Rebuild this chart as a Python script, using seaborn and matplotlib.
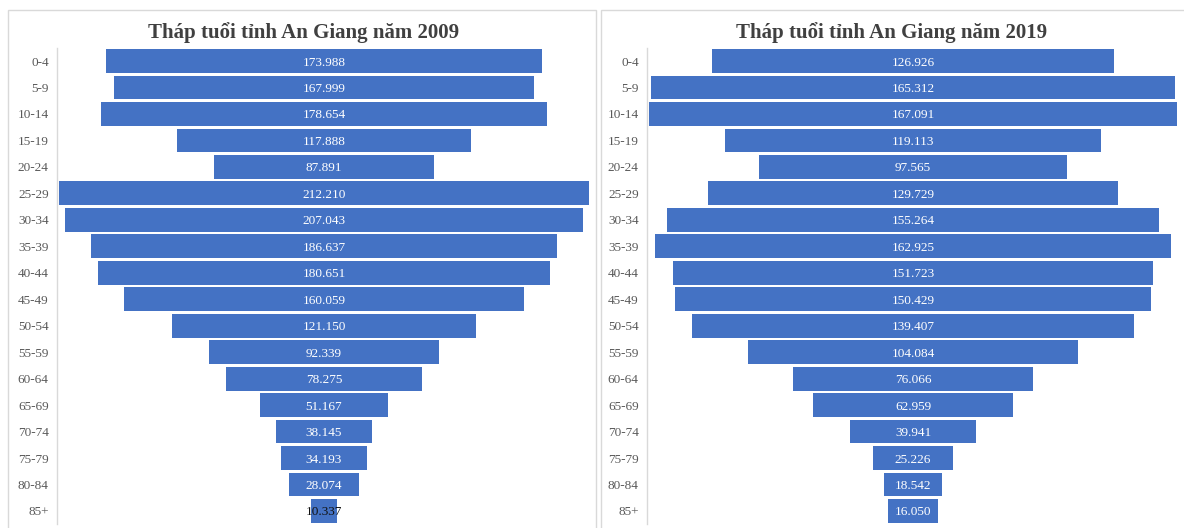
import pandas as pd
import numpy as np
from matplotlib import pyplot as plt
from matplotlib.patches import Rectangle
import seaborn as sns

age_groups = ["0-4", "5-9", "10-14", "15-19", "20-24", "25-29", "30-34", "35-39",
              "40-44", "45-49", "50-54", "55-59", "60-64", "65-69", "70-74",
              "75-79", "80-84", "85+"]
pop_2009 = [173988, 167999, 178654, 117888, 87891, 212210, 207043, 186637,
            180651, 160059, 121150, 92339, 78275, 51167, 38145, 34193, 28074, 10337]
pop_2019 = [126926, 165312, 167091, 119113, 97565, 129729, 155264, 162925,
            151723, 150429, 139407, 104084, 76066, 62959, 39941, 25226, 18542, 16050]
titles = ["Tháp tuổi tỉnh An Giang năm 2009", "Tháp tuổi tỉnh An Giang năm 2019"]

blue = "#4472C4"
sns.set_theme(style="white")
plt.rcParams['font.family'] = ['Liberation Serif', 'DejaVu Serif']

fig = plt.figure(figsize=(11.84, 5.28), dpi=100)
W, H = 1184, 528

# panel frames (Excel chart areas)
for x0, x1 in [(8, 596), (601, 1190)]:
    fig.patches.append(Rectangle((x0 / W, -0.05), (x1 - x0) / W, 1.05 - 10 / H,
                                 transform=fig.transFigure, fill=False,
                                 edgecolor="#d9d9d9", linewidth=1))

axes_px = [(57, 591), (647, 1179)]
title_x = [304, 892]
for data, title, (a0, a1), tx in zip([pop_2009, pop_2019], titles, axes_px, title_x):
    top = 61 - 13.2
    bottom = 511 + 13.2
    ax = fig.add_axes([a0 / W, 1 - bottom / H, (a1 - a0) / W, (bottom - top) / H])
    df = pd.DataFrame({"age": age_groups, "half": np.array(data) / 2})
    # centred bars: one half to the right, one to the left
    sns.barplot(data=df, x="half", y="age", color=blue, saturation=1,
                width=0.9, linewidth=0, ax=ax, orient="h")
    df_neg = df.assign(half=-df["half"])
    sns.barplot(data=df_neg, x="half", y="age", color=blue, saturation=1,
                width=0.9, linewidth=0, ax=ax, orient="h")
    ax.set_xlim(-max(data) / 2 / 0.994, max(data) / 2 / 0.994)
    ax.set_ylim(len(age_groups) - 0.5, -0.5)
    for i, v in enumerate(data):
        lab = f"{v:,}".replace(",", ".")
        col = "white" if v > 15000 else "#111111"
        ax.text(0, i, lab, ha="center", va="center_baseline", color=col, fontsize=9.5)
    ax.set_xlabel("")
    ax.set_ylabel("")
    ax.set_xticks([])
    ax.tick_params(axis="y", length=0, pad=6, labelsize=9.5, labelcolor="#595959")
    for s in ["top", "right", "bottom"]:
        ax.spines[s].set_visible(False)
    ax.spines["left"].set_color("#d9d9d9")
    ax.spines["left"].set_linewidth(1)
    ax.set_facecolor("none")
    fig.text(tx / W, 1 - 30 / H, title, ha="center", va="center_baseline",
             fontsize=15, fontweight="bold", color="#404040")

fig.savefig("out.png", dpi=100)
